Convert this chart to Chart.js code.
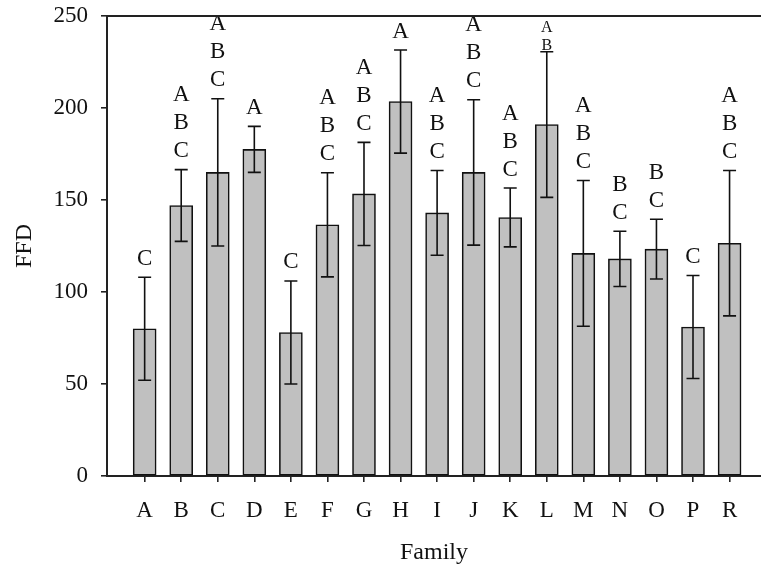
<!DOCTYPE html>
<html>
<head>
<meta charset="utf-8">
<script src="https://cdn.jsdelivr.net/npm/chart.js@4/dist/chart.umd.min.js"></script>
<style>
  html, body { margin: 0; padding: 0; background: #fff; overflow: hidden; }
  canvas { display: block; }
</style>
</head>
<body>
<canvas id="chart" width="761" height="571"></canvas>
<script>
// Families along the x axis
const families = ['A', 'B', 'C', 'D', 'E', 'F', 'G', 'H', 'I', 'J', 'K', 'L', 'M', 'N', 'O', 'P', 'R'];
// Mean FFD per family
const ffdMeans = [80, 147, 165, 177.5, 78, 136.5, 153.3, 203.5, 143, 165, 140.5, 191, 121, 118, 123.3, 81, 126.5];
// Error bar half-lengths
const ffdErrors = [28, 19.5, 40, 12.5, 28, 28.3, 28, 28, 23, 39.5, 16, 39.6, 39.6, 15, 16.2, 28, 39.5];
// Significance groups drawn above each bar
const groupLetters = ['C', 'ABC', 'ABC', 'A', 'C', 'ABC', 'ABC', 'A', 'ABC', 'ABC', 'ABC', 'AB', 'ABC', 'BC', 'BC', 'C', 'ABC'];
// y-axis tick values
const yTicks = [0, 50, 100, 150, 200, 250];

const FONT = "'Liberation Serif', 'Times New Roman', serif";
const INK = '#111';
const AXIS = '#222';

// Error bars and group letters on top of the bars
const annotate = {
  id: 'annotate',
  afterDatasetsDraw(chart) {
    const { ctx, chartArea } = chart;
    const xs = chart.scales.x, ys = chart.scales.y;
    ctx.save();
    ffdMeans.forEach((m, i) => {
      const x = xs.getPixelForValue(i);
      const yt = ys.getPixelForValue(m + ffdErrors[i]);
      const yb = ys.getPixelForValue(m - ffdErrors[i]);
      ctx.strokeStyle = INK;
      ctx.lineWidth = 1.6;
      ctx.beginPath();
      ctx.moveTo(x, yt); ctx.lineTo(x, yb);
      ctx.moveTo(x - 6.5, yt); ctx.lineTo(x + 6.5, yt);
      ctx.moveTo(x - 6.5, yb); ctx.lineTo(x + 6.5, yb);
      ctx.stroke();

      // letters stack upward from the cap; shrink when they would hit the frame
      const letters = groupLetters[i].split('');
      let size = 23, step = 28, gap = 12.5;
      const needTop = yt - gap - (letters.length - 1) * step - 15;
      if (needTop < chartArea.top - 4) { size = 16; step = 18; gap = 2; }
      ctx.fillStyle = INK;
      ctx.font = size + 'px ' + FONT;
      ctx.textAlign = 'center';
      ctx.textBaseline = 'alphabetic';
      letters.forEach((ch, k) => {
        const y = yt - gap - (letters.length - 1 - k) * step;
        ctx.fillText(ch, x, y);
      });
    });
    ctx.restore();
  },
  afterDraw(chart) {
    const { ctx, chartArea } = chart;
    ctx.save();
    ctx.strokeStyle = AXIS;
    ctx.lineWidth = 2;
    ctx.beginPath();
    ctx.moveTo(chartArea.left, chartArea.top);
    ctx.lineTo(chartArea.right, chartArea.top);
    ctx.stroke();
    ctx.restore();
  }
};

new Chart(document.getElementById('chart'), {
  type: 'bar',
  data: {
    datasets: [{
      data: families.map((f, i) => ({ x: i, y: ffdMeans[i] })),
      backgroundColor: '#c0c0c0',
      borderColor: '#111',
      borderWidth: 1.6,
      borderSkipped: false,
      barThickness: 23
    }]
  },
  options: {
    responsive: false,
    animation: false,
    devicePixelRatio: 1,
    layout: { padding: { top: 16, right: 0, left: 0, bottom: 0 } },
    plugins: { legend: { display: false }, tooltip: { enabled: false } },
    scales: {
      x: {
        type: 'linear',
        min: -1.03,
        max: 16.86,
        offset: false,
        grid: { offset: false, drawOnChartArea: false, drawTicks: true, tickLength: 6, color: AXIS, lineWidth: 1.6 },
        border: { display: true, color: AXIS, width: 2 },
        afterBuildTicks(scale) { scale.ticks = families.map((f, i) => ({ value: i })); },
        afterFit(scale) {
          scale.height = 95;
          scale.paddingLeft = 0; scale.paddingRight = 0;
        },
        ticks: {
          autoSkip: false,
          maxRotation: 0,
          padding: 15,
          color: INK,
          font: { family: FONT, size: 23 },
          callback: (v) => families[v]
        },
        title: {
          display: true,
          text: 'Family',
          color: INK,
          font: { family: FONT, size: 24 },
          padding: { top: 0, bottom: 4 }
        }
      },
      y: {
        min: 0,
        max: 250,
        grid: { drawOnChartArea: false, drawTicks: true, tickLength: 6, color: AXIS, lineWidth: 1.6 },
        border: { display: true, color: AXIS, width: 2 },
        afterBuildTicks(scale) { scale.ticks = yTicks.map(v => ({ value: v })); },
        afterFit(scale) {
          scale.width = 107;
          scale.paddingTop = 0; scale.paddingBottom = 0;
        },
        ticks: {
          padding: 13,
          color: INK,
          font: { family: FONT, size: 23 }
        },
        title: {
          display: true,
          text: 'FFD',
          color: INK,
          font: { family: FONT, size: 24 },
          padding: { top: 10, bottom: 0 }
        }
      }
    }
  },
  plugins: [annotate]
});
</script>
</body>
</html>
